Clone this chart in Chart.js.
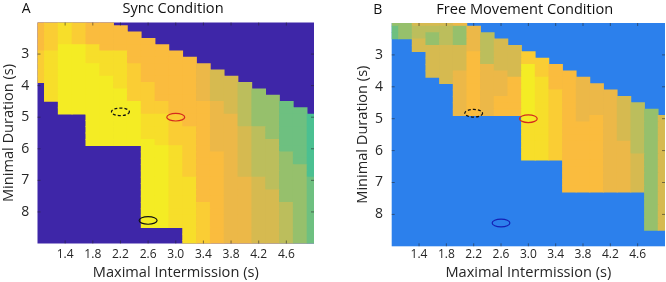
<!DOCTYPE html>
<html>
<head>
<meta charset="utf-8">
<script src="https://cdn.jsdelivr.net/npm/chart.js@4.4.0/dist/chart.umd.min.js"></script>
<style>
html,body{margin:0;padding:0;background:#fff;}
#wrap{position:relative;width:666px;height:282px;overflow:hidden;background:#fff;}
.panel{position:absolute;top:0;width:333px;height:282px;}
#pa{left:0;} #pb{left:333px;}
canvas{display:block;}
</style>
</head>
<body>
<div id="wrap">
  <div class="panel" id="pa"><canvas id="ca" width="333" height="282"></canvas></div>
  <div class="panel" id="pb"><canvas id="cb" width="333" height="282"></canvas></div>
</div>
<script>
// ---- data ----
const maxIntermission = [1.0,1.2,1.4,1.6,1.8,2.0,2.2,2.4,2.6,2.8,3.0,3.2,3.4,3.6,3.8,4.0,4.2,4.4,4.6,4.8,5.0];
const minDuration = [2.0,2.2,2.4,2.6,2.8,3.0,3.2,3.4,3.6,3.8,4.0,4.2,4.4,4.6,4.8,5.0,5.2,5.4,5.6,5.8,6.0,6.2,6.4,6.6,6.8,7.0,7.2,7.4,7.6,7.8,8.0,8.2,8.4,8.6,8.8,9.0];
const xTickValues = [1.4,1.8,2.2,2.6,3.0,3.4,3.8,4.2,4.6];
const xTickLabels = ['1.4','1.8','2.2','2.6','3.0','3.4','3.8','4.2','4.6'];
const yTickValues = [3,4,5,6,7,8];
const yTickLabels = ['3','4','5','6','7','8'];

// level per cell (0 = low ... 9 = high), '.' = no value; one string per Minimal Duration row, one char per Maximal Intermission column
const syncLevels = [
"678766...............",
"6787666..............",
"67876666.............",
"678766666............",
"6799866666...........",
"78998886666..........",
"789988866666.........",
"7899988766665........",
"78999887666654.......",
"789999876666544......",
".899998776665443.....",
".8999997766654432....",
".89999977666544322...",
"..99999977666543221..",
"..999999776665432211.",
"....99998876655322110",
"....99998876655322110",
"....99998877655432110",
"....99998877655432110",
"....99999877655433110",
"........9987655433110",
"........9987665433210",
"........9987665433210",
"........9987665433220",
"........9987665433220",
"........9988665543221",
"........9988665543221",
"........9988665544221",
"........9988665544221",
"........9988765544321",
"........9988765544321",
"........9988765544321",
"........9988765544321",
"...........8765544321",
"...........8765544321",
"...........8765544321"
];
const freeLevels = [
"224445...............",
"1233325..............",
"12323253.............",
"..4232534............",
"..44445344...........",
"...44463447..........",
"...444634477.........",
"...4446544976........",
"...44565549766.......",
"....45655698665......",
".....56556986655.....",
".....565569876555....",
".....5656698765554...",
".....56566987655543..",
".....565669876555432.",
"..........98765654324",
"..........88766654324",
"..........88766654324",
"..........88766654324",
"..........88766655324",
"..........88766655324",
"..........88766655424",
".............66655424",
".............66655424",
".............66655424",
".............66655424",
".............66655424",
"...................24",
"...................24",
"...................24",
"...................24",
"...................24",
"...................24",
".....................",
".....................",
"....................."
];
// highlighted parameter pairs (ellipses)
const syncMarkerX = [2.2, 3.0, 2.6];
const syncMarkerY = [4.83, 5.0, 8.27];
const freeMarkerX = [2.2, 3.0, 2.6];
const freeMarkerY = [4.83, 5.0, 8.27];

// ---- styles ----
const levelColors = ['rgb(75,192,145)','rgb(110,192,128)','rgb(150,192,108)','rgb(188,190,92)','rgb(214,186,80)','rgb(236,184,72)','rgb(250,188,62)','rgb(250,205,52)','rgb(247,222,42)','rgb(244,236,36)'];
const FONT = "'Open Sans', 'Noto Sans', sans-serif";
const TXT = '#262626';
const markerStylesA = [{c:'#111', d:[3,2]}, {c:'#d42a1e', d:[]}, {c:'#111', d:[]}];
const markerStylesB = [{c:'#111', d:[3,2]}, {c:'#d42a1e', d:[]}, {c:'#1420b4', d:[]}];

function cellsFrom(levels) {
  const half = (minDuration[1] - minDuration[0]) / 2;
  const data = [], colors = [];
  levels.forEach((row, r) => {
    for (let c = 0; c < maxIntermission.length; c++) {
      const ch = row[c];
      if (ch === undefined || ch === '.') continue;
      data.push({x: maxIntermission[c], y: [minDuration[r] - half, minDuration[r] + half]});
      colors.push(levelColors[Number(ch)]);
    }
  });
  return {data, colors};
}

function panelPlugin(g) {
  return {
    id: 'panel' + g.letter,
    beforeDatasetsDraw(chart) {
      const {ctx, chartArea: a} = chart;
      ctx.save();
      ctx.fillStyle = g.mask;
      ctx.fillRect(a.left, a.top, a.right - a.left, a.bottom - a.top);
      ctx.restore();
    },
    afterDatasetsDraw(chart) {
      const {ctx, chartArea: a, scales: {x, y}} = chart;
      ctx.save();
      // inward tick marks
      ctx.strokeStyle = 'rgba(38,38,38,0.7)';
      ctx.lineWidth = 0.8;
      ctx.beginPath();
      xTickValues.forEach(v => {
        const px = x.getPixelForValue(v);
        ctx.moveTo(px, a.bottom); ctx.lineTo(px, a.bottom - 3);
        ctx.moveTo(px, a.top); ctx.lineTo(px, a.top + 3);
      });
      yTickValues.forEach(v => {
        const py = y.getPixelForValue(v);
        ctx.moveTo(a.left, py); ctx.lineTo(a.left + 3, py);
        ctx.moveTo(a.right, py); ctx.lineTo(a.right - 3, py);
      });
      ctx.stroke();
      // ellipses
      ctx.lineWidth = 1.2;
      g.mx.forEach((mx, i) => {
        const cx = x.getPixelForValue(mx), cy = y.getPixelForValue(g.my[i]);
        const rx = Math.abs(x.getPixelForValue(mx + 0.13) - cx);
        const ry = Math.abs(y.getPixelForValue(g.my[i] + 0.12) - cy);
        ctx.strokeStyle = g.ms[i].c;
        ctx.setLineDash(g.ms[i].d);
        ctx.beginPath();
        ctx.ellipse(cx, cy, rx, ry, 0, 0, Math.PI * 2);
        ctx.stroke();
      });
      ctx.restore();
    },
    afterDraw(chart) {
      const ctx = chart.ctx;
      ctx.save();
      ctx.fillStyle = '#111';
      ctx.textBaseline = 'alphabetic';
      ctx.textAlign = 'center';
      ctx.font = '14px ' + FONT;
      ctx.fillText(g.letter, g.letterX, g.textY);
      ctx.font = '14.6px ' + FONT;
      ctx.fillText(g.title, g.titleX, g.textY);
      ctx.restore();
    }
  };
}

function makePanel(canvasId, levels, g) {
  const cells = cellsFrom(levels);
  return new Chart(document.getElementById(canvasId), {
    type: 'bar',
    data: {datasets: [{
      data: cells.data,
      backgroundColor: cells.colors,
      borderWidth: 0,
      barPercentage: 1,
      categoryPercentage: 1,
      inflateAmount: 0.4,
      clip: 0
    }]},
    options: {
      responsive: false,
      animation: false,
      events: [],
      layout: {padding: {left: 0, right: g.padRight, top: g.top, bottom: 0}},
      plugins: {legend: {display: false}, tooltip: {enabled: false}, title: {display: false}},
      scales: {
        x: {
          type: 'linear', min: 1.0, max: 5.0, offset: false,
          grid: {display: false, drawTicks: false},
          border: {display: false},
          afterBuildTicks: s => { s.ticks = xTickValues.map(v => ({value: v})); },
          afterFit: s => { s.height = g.xHeight; },
          ticks: {padding: g.xTickPad, autoSkip: false, maxRotation: 0, color: TXT,
                  font: {family: FONT, size: 12}, callback: (v, i) => xTickLabels[i]},
          title: {display: true, text: 'Maximal Intermission (s)', color: TXT,
                  font: {family: FONT, size: 14.6}, padding: {top: 0, bottom: 0.6}}
        },
        y: {
          type: 'linear', min: 2, max: 9, reverse: true, offset: false,
          grid: {display: false, drawTicks: false},
          border: {display: false},
          afterBuildTicks: s => { s.ticks = yTickValues.map(v => ({value: v})); },
          afterFit: s => { s.width = g.yWidth; },
          ticks: {padding: g.yTickPad, autoSkip: false, color: TXT,
                  font: {family: FONT, size: 14}, callback: (v, i) => yTickLabels[i]},
          title: {display: true, text: 'Minimal Duration (s)', color: TXT,
                  font: {family: FONT, size: 14.6}, padding: {top: g.yTitlePad, bottom: 0}}
        }
      }
    },
    plugins: [panelPlugin(g)]
  });
}

function drawAll() {
  makePanel('ca', syncLevels, {
    letter: 'A', title: 'Sync Condition', mask: '#3e26a8',
    padRight: 19, top: 22.5, yWidth: 37.5, xHeight: 38.5, xTickPad: 3.6, yTickPad: 8.2, yTitlePad: 0.3,
    letterX: 26.2, titleX: 173, textY: 13,
    mx: syncMarkerX, my: syncMarkerY, ms: markerStylesA
  });
  makePanel('cb', freeLevels, {
    letter: 'B', title: 'Free Movement Condition', mask: '#2c80ec',
    padRight: 1, top: 23, yWidth: 58.7, xHeight: 35.7, xTickPad: 0.8, yTickPad: 8.7, yTitlePad: 21.3,
    letterX: 44.7, titleX: 191.7, textY: 14,
    mx: freeMarkerX, my: freeMarkerY, ms: markerStylesB
  });
}

let started = false;
function start() { if (started) return; started = true; drawAll(); }
if (document.fonts && document.fonts.load) {
  Promise.all([document.fonts.load('14px "Open Sans"'), document.fonts.load('12px "Open Sans"')])
    .then(start, start);
  setTimeout(start, 400);
} else {
  start();
}
</script>
</body>
</html>
